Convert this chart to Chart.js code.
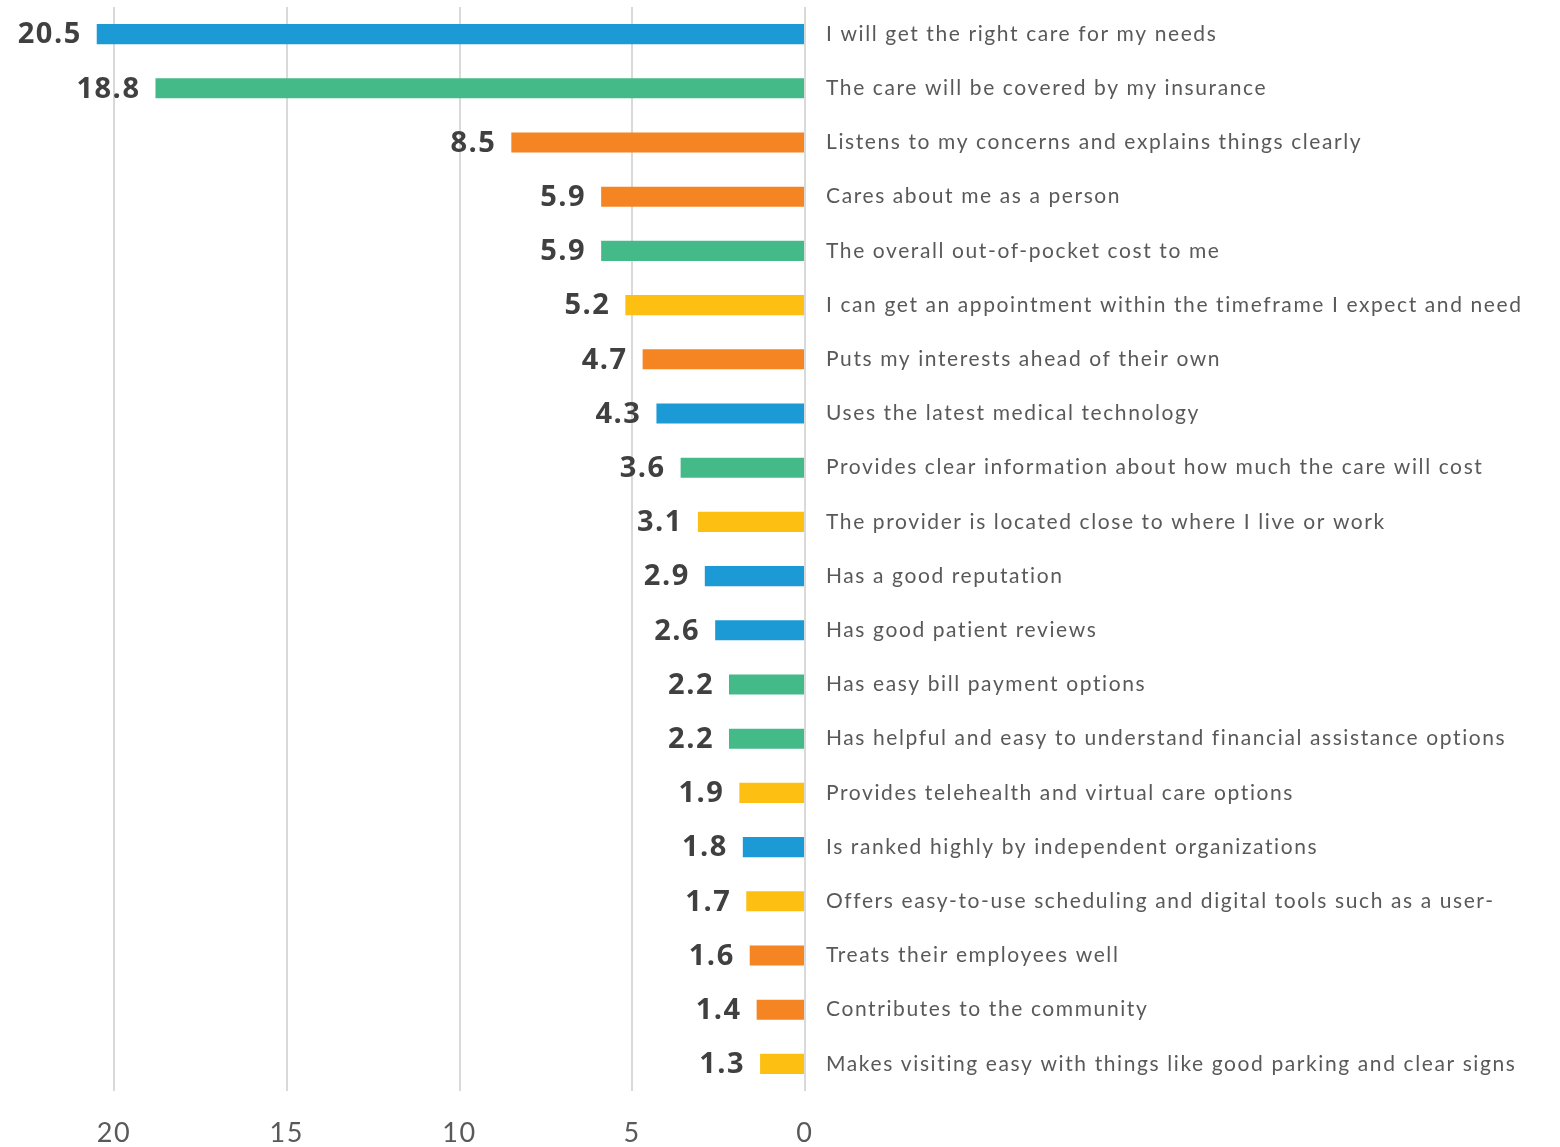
<!DOCTYPE html>
<html lang="en">
<head>
    <meta charset="UTF-8">
    <title>What matters most when choosing a provider</title>
    <script src="https://cdn.jsdelivr.net/npm/chart.js"></script>
    <style>
body {
  margin: 0;
  padding: 0;
  background-color: #fff;
}

#chartContainer {
  position: relative;
  width: 1560px;
  height: 1147px;
}
    </style>
</head>
<body>
    <div id="chartContainer">
        <canvas id="myChart"></canvas>
    </div>

    <script>
        // Reasons, share of respondents (%), and bar colour group for each row
        const categories = [
            'I will get the right care for my needs',
            'The care will be covered by my insurance',
            'Listens to my concerns and explains things clearly',
            'Cares about me as a person',
            'The overall out-of-pocket cost to me',
            'I can get an appointment within the timeframe I expect and need',
            'Puts my interests ahead of their own',
            'Uses the latest medical technology',
            'Provides clear information about how much the care will cost',
            'The provider is located close to where I live or work',
            'Has a good reputation',
            'Has good patient reviews',
            'Has easy bill payment options',
            'Has helpful and easy to understand financial assistance options',
            'Provides telehealth and virtual care options',
            'Is ranked highly by independent organizations',
            'Offers easy-to-use scheduling and digital tools such as a user-',
            'Treats their employees well',
            'Contributes to the community',
            'Makes visiting easy with things like good parking and clear signs'
        ];
        const values = [20.5, 18.8, 8.5, 5.9, 5.9, 5.2, 4.7, 4.3, 3.6, 3.1, 2.9, 2.6, 2.2, 2.2, 1.9, 1.8, 1.7, 1.6, 1.4, 1.3];
        const groups = ['blue', 'green', 'orange', 'orange', 'green', 'yellow', 'orange', 'blue', 'green', 'yellow',
                        'blue', 'blue', 'green', 'green', 'yellow', 'blue', 'yellow', 'orange', 'orange', 'yellow'];
        const xTicks = [0, 5, 10, 15, 20];

        const palette = {
            blue: '#1c9ad6',
            green: '#44ba89',
            orange: '#f58423',
            yellow: '#fdbf12'
        };

        // value labels sit just left of each bar's end
        const valueLabels = {
            id: 'valueLabels',
            afterDatasetsDraw(chart) {
                const ctx = chart.ctx;
                const meta = chart.getDatasetMeta(0);
                ctx.save();
                ctx.letterSpacing = '1.5px';
                ctx.font = 'bold 29px "Open Sans", sans-serif';
                ctx.fillStyle = '#404040';
                ctx.textAlign = 'right';
                ctx.textBaseline = 'middle';
                meta.data.forEach((bar, i) => {
                    ctx.fillText(values[i].toFixed(1), bar.x - 15, bar.y + 1);
                });
                ctx.restore();
            }
        };

        // slightly spaced-out category text
        const spacing = {
            id: 'spacing',
            beforeDraw(chart) {
                chart.ctx.letterSpacing = '1.6px';
            }
        };

        const ctx = document.getElementById('myChart').getContext('2d');
        const myChart = new Chart(ctx, {
            type: 'bar',
            data: {
                labels: categories,
                datasets: [{
                    data: values,
                    backgroundColor: groups.map(g => palette[g]),
                    borderWidth: 0,
                    barPercentage: 1,
                    categoryPercentage: 0.37
                }]
            },
            options: {
                indexAxis: 'y',
                responsive: true,
                maintainAspectRatio: false,
                animation: false,
                layout: {
                    padding: { top: 7, left: 0, right: 0, bottom: 0 }
                },
                plugins: {
                    legend: { display: false },
                    tooltip: { enabled: false }
                },
                scales: {
                    x: {
                        reverse: true,
                        min: 0,
                        max: 23.3,
                        afterBuildTicks: (scale) => {
                            scale.ticks = xTicks.map(v => ({ value: v }));
                        },
                        afterFit: (scale) => {
                            scale.height = 56;
                            scale.paddingLeft = 0;
                            scale.paddingRight = 0;
                        },
                        grid: {
                            color: '#d9d9d9',
                            lineWidth: 2,
                            drawTicks: false
                        },
                        border: { display: false },
                        ticks: {
                            padding: 26,
                            color: '#595959',
                            font: { family: 'Lato', size: 27 }
                        }
                    },
                    y: {
                        position: 'right',
                        afterFit: (scale) => {
                            scale.width = 755;
                            scale.paddingTop = 0;
                            scale.paddingBottom = 0;
                        },
                        grid: { display: false, drawTicks: false },
                        border: { display: false },
                        ticks: {
                            padding: 21,
                            color: '#595959',
                            font: { family: 'Lato', size: 21 }
                        }
                    }
                }
            },
            plugins: [spacing, valueLabels]
        });
    </script>
</body>
</html>
